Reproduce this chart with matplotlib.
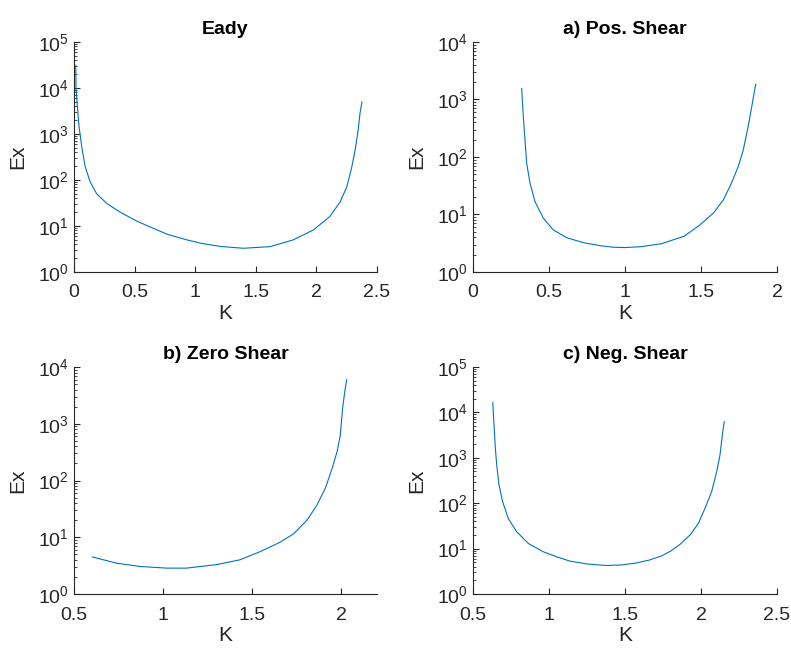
import matplotlib
matplotlib.use("Agg")
import matplotlib.pyplot as plt
from matplotlib.ticker import LogLocator, NullFormatter, NullLocator

# values
eady_k = [0.014, 0.0165, 0.0275, 0.041, 0.063, 0.091, 0.132, 0.187, 0.27, 0.38,
          0.517, 0.654, 0.77, 0.93, 1.05, 1.205, 1.397, 1.617, 1.81, 1.975,
          2.11, 2.195, 2.25, 2.29, 2.32, 2.345, 2.36, 2.376]
eady_ex = [31000, 10000, 4000, 1470, 540, 200, 92, 50, 31, 20,
           12.8, 8.9, 6.6, 5.0, 4.2, 3.6, 3.28, 3.56, 5.0, 8.2,
           16, 33, 70, 180, 455, 1240, 2870, 5000]

pos_k = [0.32, 0.331, 0.342, 0.353, 0.375, 0.408, 0.463, 0.528, 0.616, 0.726,
         0.836, 0.92, 1.0, 1.1, 1.24, 1.39, 1.493, 1.58, 1.647, 1.70,
         1.745, 1.778, 1.81, 1.834, 1.849, 1.86]
pos_ex = [1560, 500, 198, 78, 35, 16.7, 8.6, 5.4, 3.95, 3.24,
          2.87, 2.7, 2.66, 2.75, 3.1, 4.2, 6.6, 10.5, 17.9, 35,
          68, 132, 336, 755, 1280, 1830]

zero_k = [0.603, 0.738, 0.87, 1.02, 1.13, 1.30, 1.43, 1.545, 1.657, 1.732,
          1.807, 1.863, 1.91, 1.948, 1.976, 1.994, 2.007, 2.019, 2.03]
zero_ex = [4.5, 3.5, 3.06, 2.86, 2.86, 3.3, 4.0, 5.6, 8.2, 11.5,
           20, 37, 73, 163, 322, 630, 1870, 3650, 6000]

neg_k = [0.63, 0.638, 0.647, 0.656, 0.671, 0.695, 0.732, 0.787, 0.864, 0.963,
         1.05, 1.138, 1.25, 1.37, 1.47, 1.57, 1.66, 1.74, 1.80, 1.862,
         1.928, 1.983, 2.026, 2.07, 2.103, 2.125, 2.14, 2.153]
neg_ex = [16600, 5300, 1620, 690, 252, 108, 46, 23.6, 13, 8.5,
          6.6, 5.3, 4.6, 4.26, 4.35, 4.8, 5.6, 6.9, 8.8, 12.4,
          20, 36, 77, 180, 495, 1150, 3170, 6260]

titles = ["Eady", "a) Pos. Shear", "b) Zero Shear", "c) Neg. Shear"]
xlims = [(0, 2.5), (0, 2), (0.5, 2.2), (0.5, 2.5)]
xticks = [[0, 0.5, 1, 1.5, 2, 2.5], [0, 0.5, 1, 1.5, 2],
          [0.5, 1, 1.5, 2], [0.5, 1, 1.5, 2, 2.5]]
ylims = [(1, 1e5), (1, 1e4), (1, 1e4), (1, 1e5)]

plt.rcParams['font.family'] = ['Liberation Sans', 'DejaVu Sans']
plt.rcParams['mathtext.fontset'] = 'custom'
plt.rcParams['mathtext.rm'] = 'Liberation Sans'

fig = plt.figure(figsize=(7.91, 6.49), dpi=100)
positions = [[0.0936, 0.5809, 0.383, 0.3544],
             [0.598, 0.5809, 0.3843, 0.3544],
             [0.0936, 0.0847, 0.383, 0.3498],
             [0.598, 0.0847, 0.3843, 0.3498]]
data = [(eady_k, eady_ex), (pos_k, pos_ex), (zero_k, zero_ex), (neg_k, neg_ex)]

grey = "#262626"
for i in range(4):
    ax = fig.add_axes(positions[i])
    ax.plot(data[i][0], data[i][1], color="#0072BD", lw=0.8)
    ax.set_yscale("log")
    ax.set_xlim(*xlims[i])
    ax.set_ylim(*ylims[i])
    ax.set_xticks(xticks[i])
    ax.set_xticklabels([f"{t:g}" for t in xticks[i]])
    ax.xaxis.set_minor_locator(NullLocator())
    ax.yaxis.set_major_locator(LogLocator(base=10, numticks=10))
    ax.yaxis.set_minor_locator(LogLocator(base=10, subs=range(2, 10), numticks=20))
    ax.yaxis.set_minor_formatter(NullFormatter())
    ax.spines["top"].set_visible(False)
    ax.spines["right"].set_visible(False)
    ax.spines["left"].set_color(grey)
    ax.spines["bottom"].set_color(grey)
    ax.tick_params(which="both", direction="in", colors=grey, labelsize=14)
    ax.tick_params(which="major", length=4)
    ax.tick_params(which="minor", length=2)
    ax.tick_params(axis="x", pad=9)
    ax.set_xlabel("K", fontsize=15, color=grey, labelpad=2)
    ax.set_ylabel("Ex", fontsize=15, color=grey, labelpad=8)
    ax.set_title(titles[i], fontsize=14, fontweight="bold", pad=6)

plt.savefig("out.png", dpi=100)
